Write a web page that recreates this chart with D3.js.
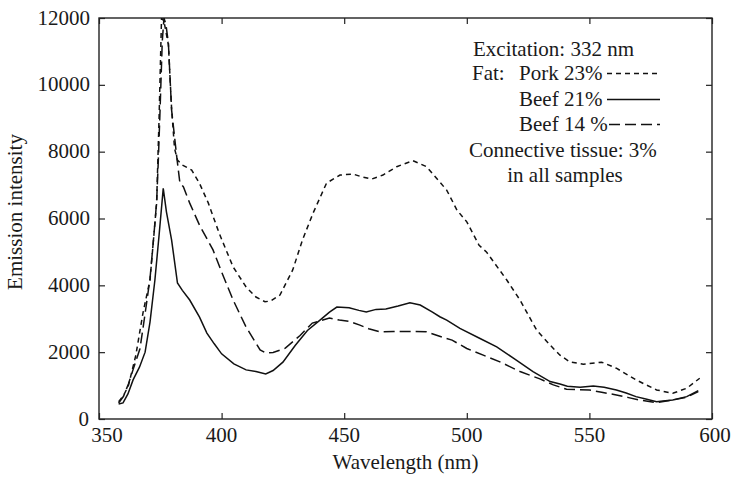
<!DOCTYPE html>
<html><head><meta charset="utf-8">
<script src="https://cdn.jsdelivr.net/npm/d3@7"></script>
<style>
html,body{margin:0;padding:0;background:#fff;}
</style></head>
<body>
<svg id="chart" width="734" height="477" font-family="serif"></svg>
<script>
// ---- data (wavelength nm, emission intensity) ----
const xTicks = [350, 400, 450, 500, 550, 600];
const yTicks = [0, 2000, 4000, 6000, 8000, 10000, 12000];

const pork23 = [
 [358,520],[360,700],[362,1000],[365,1900],[368,3200],[370.8,4160],[372.5,5600],[373.5,6460],[374.5,9000],[375.5,12000],
 [376.5,11900],[378.3,11200],[379.6,9300],[380.8,8100],[382,7750],[384,7600],[387.8,7450],[391,7050],[394.6,6460],
 [399,5560],[404.7,4550],[410,3950],[414,3650],[417.7,3510],[420,3530],[423.8,3710],[429,4460],[433,5360],
 [437.3,6160],[442.8,7060],[448.3,7300],[453.6,7330],[457,7250],[461.2,7180],[465.8,7300],[471.4,7550],[478,7730],
 [483.6,7550],[491.8,6850],[496,6250],[500,5900],[505,5200],[508,5000],[516.3,4160],[521.7,3560],[528.5,2660],
 [534,2210],[538,1910],[542,1710],[547.5,1640],[555,1700],[561,1520],[569,1170],[577.4,870],[584,770],[589.7,920],[595,1220]
];
const beef21 = [
 [358,450],[359.8,480],[361.8,750],[363.9,1170],[366.5,1550],[368.8,2000],[370.8,2900],[372.8,4160],[374.5,5500],[376.2,6900],[377.5,6200],[379.6,5360],
 [382,4070],[384,3850],[387,3560],[391,3050],[394,2570],[397,2250],[400,1950],[405,1650],[410,1470],[414,1420],
 [418,1350],[421,1450],[425,1700],[430,2200],[435,2650],[440,2950],[444,3200],[447,3350],[452,3330],[456,3250],
 [459,3200],[463,3280],[467,3290],[472,3380],[476.8,3480],[481,3410],[486,3200],[489,3060],[491.8,2960],[497.2,2710],
 [505.4,2410],[512.2,2160],[519,1820],[527,1420],[534,1120],[538,1050],[541,980],[546.2,950],[551.6,990],[556,950],
 [561,870],[565,780],[569,670],[573,600],[577.4,520],[580,540],[584,570],[589.7,670],[594.4,850]
];
const beef14 = [
 [358,480],[360,680],[362,1050],[364,1500],[366.7,2100],[368.5,3000],[370.8,4200],[372.5,5600],[373.5,6500],[374.2,7750],
 [374.9,9250],[375.8,11300],[376.5,12000],[377.3,11800],[378.3,11250],[379.6,9250],[381.7,7850],[383,7060],[384.4,6950],
 [387,6460],[391,5800],[396.5,5060],[400,4400],[404.7,3560],[410,2750],[415.7,2070],[418,1975],[421,1990],[426,2120],
 [432,2500],[437,2870],[444,3020],[448,2960],[452,2920],[456.4,2810],[460,2700],[464.6,2610],[470,2620],[476,2620],
 [483.6,2610],[490.4,2440],[494,2360],[500,2110],[506.7,1910],[513.5,1710],[521.7,1420],[529.8,1200],[535.3,1020],
 [540.7,890],[545,880],[550,870],[555,800],[561,720],[566,640],[570.4,570],[577.4,490],[584,570],[589.7,650],[594.4,820]
];

const legendRows = [
  {label:"Pork 23%", dash:"5,4", data:pork23},
  {label:"Beef 21%", dash:null, data:beef21},
  {label:"Beef 14 %", dash:"11,5", data:beef14}
];

// ---- layout ----
const FONT = "serif";
const svg = d3.select("#chart");
const L = 99, R = 712, T = 18, B = 419;
const x = d3.scaleLinear().domain([350, 600]).range([L, R]);
const y = d3.scaleLinear().domain([0, 12000]).range([B, T]);
const FS = 21;

svg.append("defs").append("clipPath").attr("id","clip")
  .append("rect").attr("x",L).attr("y",T).attr("width",R-L).attr("height",B-T);

// frame
svg.append("rect").attr("x",L).attr("y",T).attr("width",R-L).attr("height",B-T)
  .attr("fill","none").attr("stroke","#222").attr("stroke-width",1.4);

// axes with inward ticks
const tickStyle = g => { g.attr("font-family", null).attr("font-size", null); g.select(".domain").remove(); g.selectAll("line").attr("stroke","#222").attr("stroke-width",1.2); };
svg.append("g").attr("transform",`translate(0,${B})`)
  .call(d3.axisBottom(x).tickValues(xTicks).tickSizeInner(-6).tickSizeOuter(0).tickFormat(""))
  .call(tickStyle);
svg.append("g").attr("transform",`translate(0,${T})`)
  .call(d3.axisTop(x).tickValues(xTicks).tickSizeInner(-6).tickSizeOuter(0).tickFormat(""))
  .call(tickStyle);
svg.append("g").attr("transform",`translate(${L},0)`)
  .call(d3.axisLeft(y).tickValues(yTicks).tickSizeInner(-6).tickSizeOuter(0).tickFormat(""))
  .call(tickStyle);
svg.append("g").attr("transform",`translate(${R},0)`)
  .call(d3.axisRight(y).tickValues(yTicks).tickSizeInner(-6).tickSizeOuter(0).tickFormat(""))
  .call(tickStyle);

const txt = sel => sel.attr("font-family", FONT).attr("font-size", FS).attr("fill", "#1a1a1a");

// tick labels
svg.append("g").selectAll("text").data(xTicks).join("text")
  .attr("x", d => x(d) + (d === 350 ? 8 : d === 600 ? 3 : 0))
  .attr("y", 442).attr("text-anchor","middle").call(txt).text(d => d);
svg.append("g").selectAll("text").data(yTicks).join("text")
  .attr("x", d => d === 0 ? 89 : 90).attr("y", d => y(d) + 6.5).attr("text-anchor","end")
  .call(txt).text(d => d);

// axis titles
svg.append("text").attr("transform","translate(21.5,212) rotate(-90)")
  .attr("text-anchor","middle").call(txt).text("Emission intensity");
svg.append("text").attr("x",(L+R)/2).attr("y",469).attr("text-anchor","middle")
  .call(txt).text("Wavelength (nm)");

// lines
const line = d3.line().x(d => x(d[0])).y(d => y(d[1]));
const gl = svg.append("g").attr("clip-path","url(#clip)");
legendRows.forEach(s => {
  gl.append("path").datum(s.data).attr("d", line)
    .attr("fill","none").attr("stroke","#111").attr("stroke-width",1.5)
    .attr("stroke-dasharray", s.dash);
});

// legend
const lg = svg.append("g");
lg.append("text").attr("x",473).attr("y",56).call(txt).text("Excitation: 332 nm");
lg.append("text").attr("x",472).attr("y",80).call(txt).text("Fat:");
const rowY = [80, 106, 131];
legendRows.forEach((s,i) => {
  lg.append("text").attr("x",519).attr("y",rowY[i]).call(txt).text(s.label);
  lg.append("line").attr("x1", i === 2 ? 609 : 607).attr("x2",660)
    .attr("y1",rowY[i]-6.5).attr("y2",rowY[i]-6.5)
    .attr("stroke","#111").attr("stroke-width",1.5).attr("stroke-dasharray", s.dash);
});
lg.append("text").attr("x",469).attr("y",157).call(txt).text("Connective tissue: 3%");
lg.append("text").attr("x",565).attr("y",182).attr("text-anchor","middle").call(txt).text("in all samples");
</script>
</body></html>
